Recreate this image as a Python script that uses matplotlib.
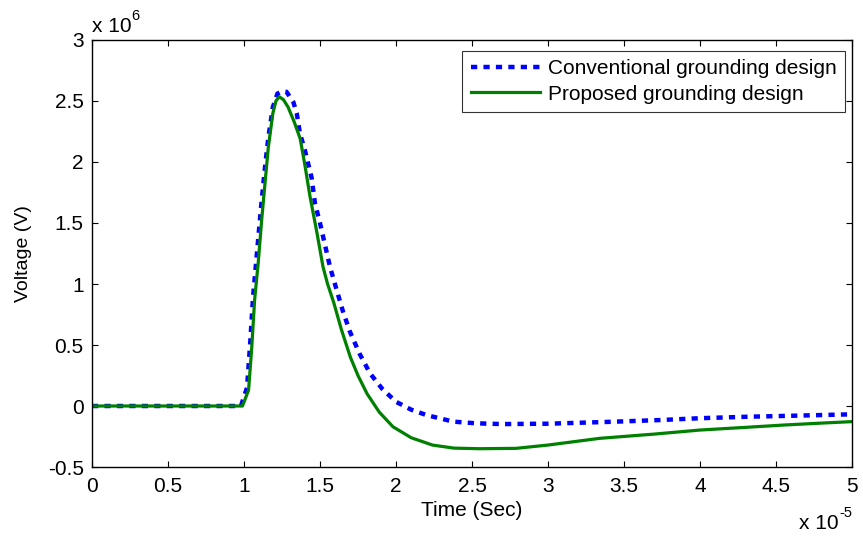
import numpy as np
import matplotlib
matplotlib.use('Agg')
import matplotlib.pyplot as plt
from matplotlib.ticker import FuncFormatter

plt.rcParams['font.family'] = ['Liberation Sans', 'DejaVu Sans']

# time in units of 1e-5 s, voltage in units of 1e6 V
t_conv = [0, 0.98, 1.02, 1.04, 1.06, 1.085, 1.11, 1.135, 1.16, 1.19, 1.22, 1.25, 1.28,
          1.325, 1.347, 1.368, 1.40, 1.445, 1.467, 1.50, 1.533, 1.566, 1.61, 1.65, 1.697,
          1.76, 1.829, 1.91, 2.0, 2.1, 2.2, 2.377, 2.53, 2.7, 3.0, 3.4, 3.74, 4.0, 4.31,
          4.6, 5.0]
v_conv = [0, 0, 0.15, 0.50, 0.90, 1.25, 1.60, 1.92, 2.20, 2.45, 2.56, 2.58, 2.575,
          2.49, 2.40, 2.235, 2.10, 1.87, 1.66, 1.50, 1.32, 1.14, 0.95, 0.78, 0.609,
          0.43, 0.268, 0.14, 0.035, -0.03, -0.074, -0.128, -0.142, -0.148, -0.145, -0.13,
          -0.115, -0.10, -0.088, -0.08, -0.068]

t_prop = [0, 0.99, 1.03, 1.05, 1.07, 1.094, 1.116, 1.14, 1.16, 1.19, 1.21, 1.232, 1.26,
          1.29, 1.33, 1.37, 1.40, 1.434, 1.48, 1.52, 1.55, 1.59, 1.64, 1.70, 1.75, 1.81,
          1.89, 1.98, 2.1, 2.24, 2.38, 2.55, 2.79, 3.0, 3.34, 3.7, 4.0, 4.3, 4.55, 4.8, 5.0]
v_prop = [0, 0, 0.13, 0.46, 0.87, 1.18, 1.52, 1.85, 2.12, 2.40, 2.50, 2.535, 2.51,
          2.45, 2.33, 2.19, 1.98, 1.72, 1.42, 1.14, 1.0, 0.85, 0.63, 0.40, 0.25, 0.10,
          -0.05, -0.17, -0.26, -0.32, -0.345, -0.35, -0.347, -0.32, -0.265, -0.23,
          -0.197, -0.175, -0.156, -0.14, -0.128]

xticks = np.arange(0, 5.01, 0.5)
yticks = np.arange(-0.5, 3.01, 0.5)

fig = plt.figure(figsize=(8.63, 5.36), dpi=100)
ax = fig.add_axes([0.1066, 0.1287, 0.8806, 0.7967])

ax.plot(np.array(t_conv) * 1e-5, np.array(v_conv) * 1e6, color=(0, 0, 1), lw=3.2,
        dashes=(1.4, 1.4), label='Conventional grounding design')
ax.plot(np.array(t_prop) * 1e-5, np.array(v_prop) * 1e6, color=(0, 0.5, 0), lw=2.3,
        label='Proposed grounding design')

ax.set_xlim(0, 5e-5)
ax.set_ylim(-0.5e6, 3e6)
ax.set_xticks(xticks * 1e-5)
ax.set_yticks(yticks * 1e6)
ax.xaxis.set_major_formatter(FuncFormatter(lambda v, p: f'{v / 1e-5:g}'))
ax.yaxis.set_major_formatter(FuncFormatter(lambda v, p: f'{v / 1e6:g}'))
ax.tick_params(direction='in', top=True, right=True, length=4.5, width=0.8, labelsize=15)
ax.tick_params(axis='x', pad=7)
ax.tick_params(axis='y', pad=6)
for s in ax.spines.values():
    s.set_linewidth(1.0)

ax.set_xlabel('Time (Sec)', fontsize=15)
ax.set_ylabel('Voltage (V)', fontsize=14)
ax.xaxis.set_label_coords(0.5, -0.08)
ax.yaxis.set_label_coords(-0.079, 0.5)

# MATLAB-style exponent labels
ax.annotate('x 10', xy=(0, 1.0187), xycoords='axes fraction', fontsize=15,
            ha='left', va='baseline')
ax.annotate('6', xy=(0, 1.0187), xycoords='axes fraction', xytext=(28.5, 8.5),
            textcoords='offset points', fontsize=10.5, ha='left', va='baseline')
ax.annotate('x 10', xy=(1, -0.145), xycoords='axes fraction', xytext=(-9.5, 0),
            textcoords='offset points', fontsize=15, ha='right', va='baseline')
ax.annotate('-5', xy=(1, -0.145), xycoords='axes fraction', xytext=(0, 8.5),
            textcoords='offset points', fontsize=10.5, ha='right', va='baseline')

leg = ax.legend(loc='upper right', bbox_to_anchor=(0.9908, 0.9742), borderaxespad=0,
                fontsize=15, frameon=True, fancybox=False, edgecolor='black',
                handlelength=3.3, handletextpad=0.4, borderpad=0.4, labelspacing=0.3)
leg.get_frame().set_linewidth(0.8)

fig.savefig('out.png', dpi=100)
